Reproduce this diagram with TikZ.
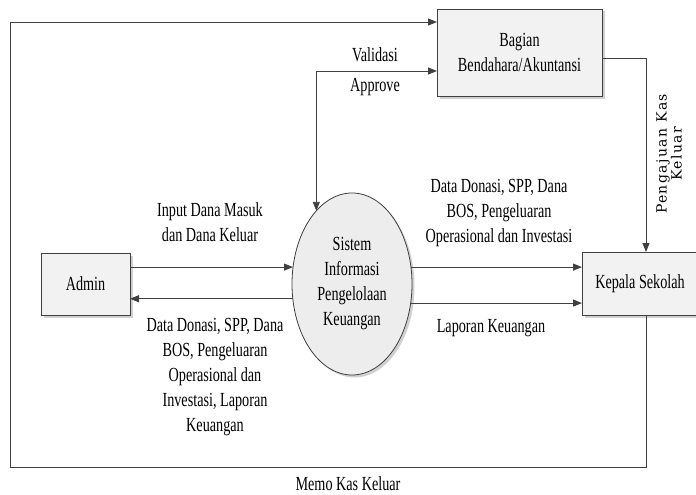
\documentclass[tikz,border=0pt]{standalone}
\usepackage{fontspec}
\setmainfont{Liberation Serif}[FakeStretch=0.71]
\newfontfamily\sidefont{DejaVu Serif}[LetterSpace=10]
\usetikzlibrary{shapes.geometric,arrows.meta,shadows}
\begin{document}
\begin{tikzpicture}[x=1pt,y=-1pt,
  every node/.style={font=\fontsize{20}{25}\selectfont, inner sep=0pt, outer sep=0pt},
  entity/.style={draw=black!75, line width=0.8pt, fill=black!5, align=center,
    drop shadow={shadow xshift=2.5pt, shadow yshift=-2.5pt, fill=black!18, opacity=1}},
  process/.style={ellipse, draw=black!75, line width=0.8pt, fill=black!7, align=center,
    drop shadow={shadow xshift=2.5pt, shadow yshift=-2.5pt, fill=black!18, opacity=1}},
  flow/.style={draw=black!75, line width=0.9pt, -{Triangle[length=9pt,width=7pt]}},
  flowboth/.style={draw=black!75, line width=0.9pt, {Triangle[length=9pt,width=7pt]}-{Triangle[length=9pt,width=7pt]}},
  lbl/.style={align=center}]
\useasboundingbox (0,0) rectangle (696,495);

% external entities and the process
\node[entity, minimum width=89pt, minimum height=62pt] (admin) at (85.5,284) {Admin};
\node[entity, minimum width=116pt, minimum height=63pt] (kepala) at (640,283.5) {Kepala Sekolah};
\node[entity, minimum width=165pt, minimum height=87pt] (bend) at (519.5,52.5) {Bagian\\Bendahara/Akuntansi};
\node[process, minimum width=120pt, minimum height=182pt] (sis) at (352,284)
  {Sistem\\Informasi\\Pengelolaan\\Keuangan};

% routing coordinates of the outer loop
\coordinate (rx) at (646,0);
\coordinate (bl) at (10,467);

% data flows
\draw[flow] (sis.164 -| admin.east) -- (sis.164);
\draw[flow] (sis.194) -- (sis.194 -| admin.east);
\draw[flow] (sis.16) -- (sis.16 -| kepala.west);
\draw[flow] (sis.-18) -- (sis.-18 -| kepala.west);
\draw[flowboth] (sis.116) |- ([yshift=-18.5pt]bend.west);
\draw[flow] ([yshift=-5.5pt]bend.east) -| (kepala.north -| rx);
\draw[flow] (kepala.south -| rx) |- (bl) |- ([yshift=30.5pt]bend.west);

% flow labels
\node[lbl] (lvalid) at (375,55) {Validasi};
\node[lbl] (lappr) at (375,87) {Approve};
\node[lbl] (linput) at (210,222) {Input Dana Masuk\\dan Dana Keluar};
\node[lbl] (ladmin) at (215,377) {Data Donasi, SPP, Dana\\BOS, Pengeluaran\\Operasional dan\\Investasi, Laporan\\Keuangan};
\node[lbl] (lkep) at (499,213) {Data Donasi, SPP, Dana\\BOS, Pengeluaran\\Operasional dan Investasi};
\node[lbl] (llap) at (491,328) {Laporan Keuangan};
\node[lbl, rotate=90, font=\sidefont\fontsize{14}{15}\selectfont] (lpeng) at (669,154) {Pengajuan Kas\\Keluar};
\node[lbl] (lmemo) at (348,484) {Memo Kas Keluar};
\end{tikzpicture}
\end{document}
